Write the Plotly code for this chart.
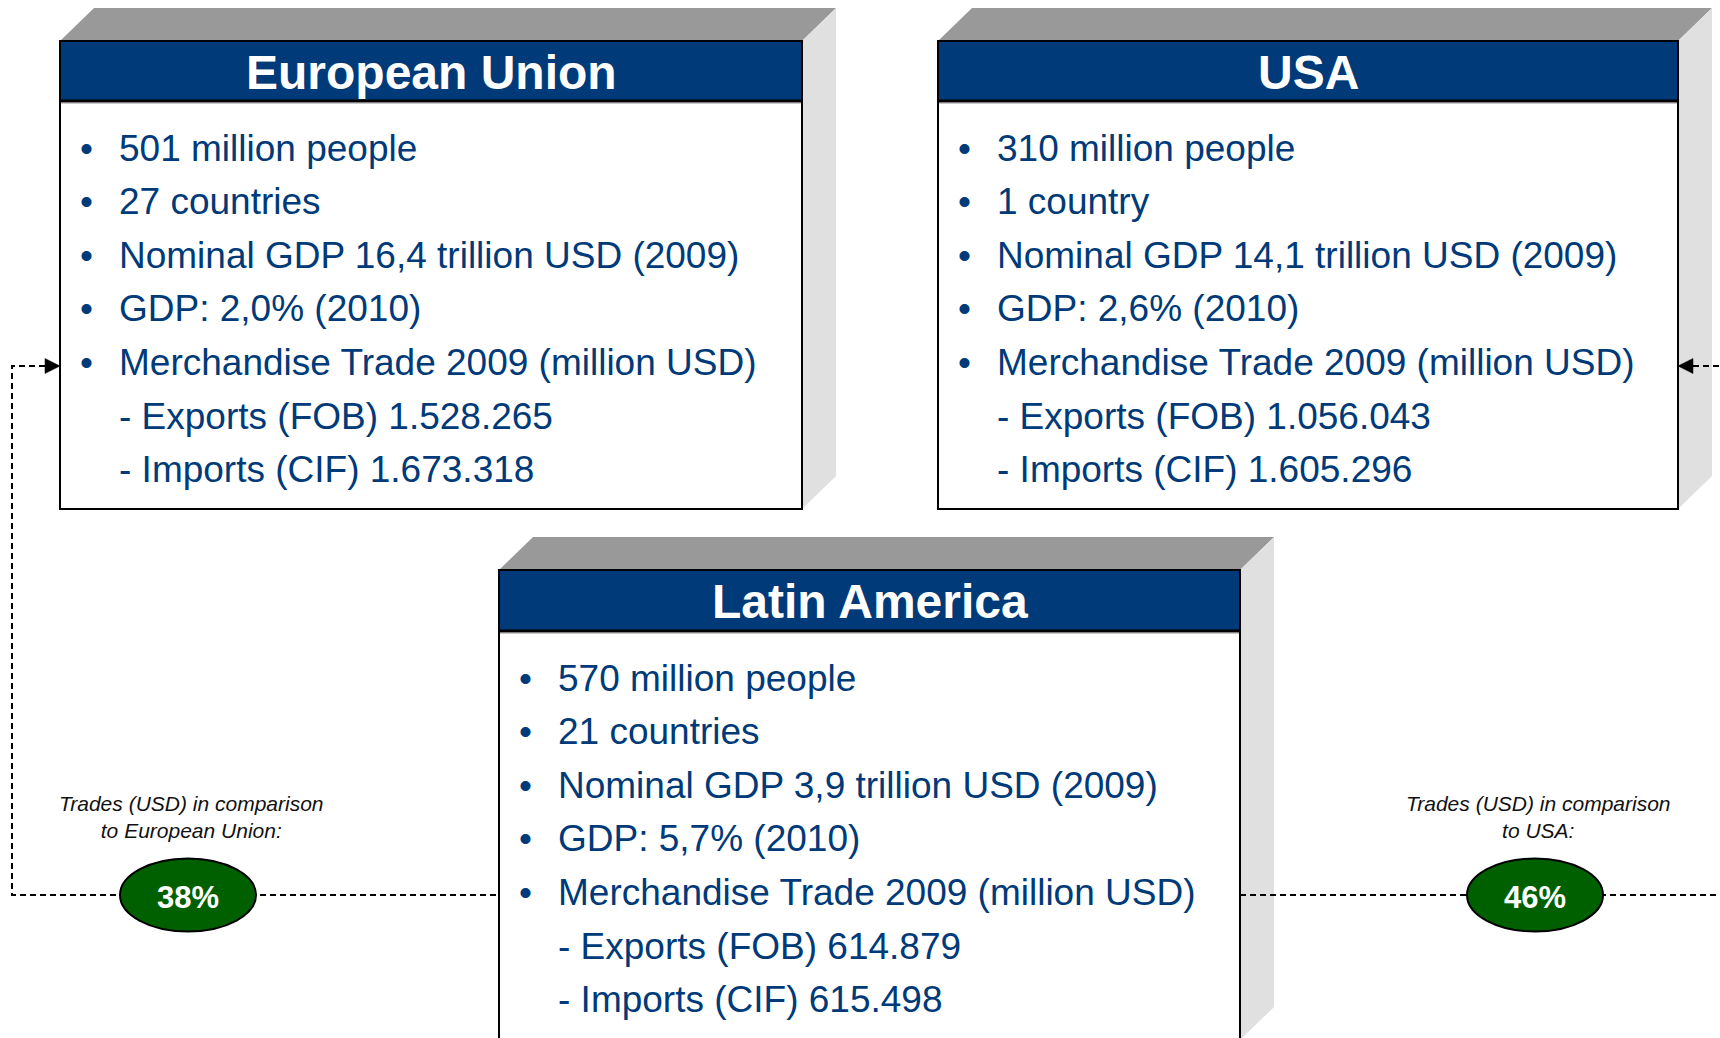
import plotly.graph_objects as go

W, H = 1720, 1038

# ---------------- data ----------------
region_titles = ["European Union", "USA", "Latin America"]

eu_items = ["501 million people", "27 countries",
            "Nominal GDP 16,4 trillion USD (2009)", "GDP: 2,0% (2010)",
            "Merchandise Trade 2009 (million USD)"]
eu_trade = ["- Exports (FOB) 1.528.265", "- Imports (CIF) 1.673.318"]

usa_items = ["310 million people", "1 country",
             "Nominal GDP 14,1 trillion USD (2009)", "GDP: 2,6% (2010)",
             "Merchandise Trade 2009 (million USD)"]
usa_trade = ["- Exports (FOB) 1.056.043", "- Imports (CIF) 1.605.296"]

la_items = ["570 million people", "21 countries",
            "Nominal GDP 3,9 trillion USD (2009)", "GDP: 5,7% (2010)",
            "Merchandise Trade 2009 (million USD)"]
la_trade = ["- Exports (FOB) 614.879", "- Imports (CIF) 615.498"]

comparison_labels = ["Trades (USD) in comparison<br>to European Union:",
                     "Trades (USD) in comparison<br>to USA:"]
comparison_pct = ["38%", "46%"]

# ---------------- style / layout ----------------
NAVY = "#003A78"
TOP_GRAY = "#999999"
SIDE_GRAY = "#E0E0E0"
GREEN = "#006000"
FONT = "Liberation Sans"
DX, DY = 34, 33
LINE_H = 53.6

boxes = [
    dict(x0=60, x1=802, y0=41, yh=101, y1=509),
    dict(x0=938, x1=1678, y0=41, yh=101, y1=509),
    dict(x0=499, x1=1240, y0=570, yh=631, y1=1040),
]
contents = [(eu_items, eu_trade), (usa_items, usa_trade), (la_items, la_trade)]

shapes = []
annotations = []

for b, title, (items, trade) in zip(boxes, region_titles, contents):
    x0, x1, y0, yh, y1 = b["x0"], b["x1"], b["y0"], b["yh"], b["y1"]
    # top face
    shapes.append(dict(type="path", xref="x", yref="y",
                       path=f"M {x0},{y0} L {x0+DX},{y0-DY} L {x1+DX},{y0-DY} L {x1},{y0} Z",
                       fillcolor=TOP_GRAY, line=dict(width=0), layer="above"))
    # right face
    shapes.append(dict(type="path", xref="x", yref="y",
                       path=f"M {x1},{y0} L {x1+DX},{y0-DY} L {x1+DX},{y1-DY} L {x1},{y1} Z",
                       fillcolor=SIDE_GRAY, line=dict(width=0), layer="above"))
    # body
    shapes.append(dict(type="rect", xref="x", yref="y", x0=x0, x1=x1, y0=y0, y1=y1,
                       fillcolor="white", line=dict(color="black", width=2), layer="above"))
    # header
    shapes.append(dict(type="rect", xref="x", yref="y", x0=x0, x1=x1, y0=y0, y1=yh,
                       fillcolor=NAVY, line=dict(color="black", width=2), layer="above"))
    shapes.append(dict(type="line", xref="x", yref="y", x0=x0, x1=x1, y0=yh, y1=yh,
                       line=dict(color="black", width=3), layer="above"))
    shapes.append(dict(type="line", xref="x", yref="y", x0=x0 + 1, x1=x1 - 1, y0=yh + 2.5, y1=yh + 2.5,
                       line=dict(color="#C8C8C8", width=1.2), layer="above"))
    annotations.append(dict(x=(x0 + x1) / 2, y=(y0 + yh) / 2 + 1, xref="x", yref="y",
                            text=f"<b>{title}</b>", showarrow=False,
                            xanchor="center", yanchor="middle",
                            font=dict(family=FONT, size=48, color="white")))
    lines = [("•", t) for t in items] + [("", t) for t in trade]
    for i, (bullet, t) in enumerate(lines):
        yy = yh + 47 + i * LINE_H
        if bullet:
            annotations.append(dict(x=x0 + 26, y=yy, xref="x", yref="y", text=bullet,
                                    showarrow=False, xanchor="center", yanchor="middle",
                                    font=dict(family=FONT, size=37, color=NAVY)))
        annotations.append(dict(x=x0 + 57, y=yy, xref="x", yref="y", text=t,
                                showarrow=False, xanchor="left", yanchor="middle",
                                font=dict(family=FONT, size=37, color=NAVY)))

# ---------------- connectors ----------------
DASH = dict(color="black", width=2, dash="6px,4px")
arrow_y = 366
link_y = 895
# left connector (EU <- LA)
shapes.append(dict(type="path", xref="x", yref="y",
                   path=f"M 45,{arrow_y} L 12,{arrow_y} L 12,{link_y} L 499,{link_y}",
                   line=DASH, layer="above"))
shapes.append(dict(type="path", xref="x", yref="y",
                   path=f"M 60,{arrow_y} L 45,{arrow_y-7.5} L 45,{arrow_y+7.5} Z",
                   fillcolor="black", line=dict(color="black", width=0.5), layer="above"))
# right connector (LA -> USA)
shapes.append(dict(type="path", xref="x", yref="y",
                   path=f"M 1240,{link_y} L 1725,{link_y}", line=DASH, layer="above"))
shapes.append(dict(type="path", xref="x", yref="y",
                   path=f"M 1693,{arrow_y} L 1725,{arrow_y}", line=DASH, layer="above"))
shapes.append(dict(type="path", xref="x", yref="y",
                   path=f"M 1678,{arrow_y} L 1693,{arrow_y-7.5} L 1693,{arrow_y+7.5} Z",
                   fillcolor="black", line=dict(color="black", width=0.5), layer="above"))

# ellipses and labels
ell_centers = [188, 1535]
for cx, lab, pct in zip(ell_centers, comparison_labels, comparison_pct):
    shapes.append(dict(type="circle", xref="x", yref="y",
                       x0=cx - 68, x1=cx + 68, y0=link_y - 36.5, y1=link_y + 36.5,
                       fillcolor=GREEN, line=dict(color="black", width=2), layer="above"))
    annotations.append(dict(x=cx, y=link_y + 2, xref="x", yref="y", text=f"<b>{pct}</b>",
                            showarrow=False, xanchor="center", yanchor="middle",
                            font=dict(family=FONT, size=31, color="white")))
    annotations.append(dict(x=cx + 3, y=817, xref="x", yref="y", text=f"<i>{lab}</i>",
                            showarrow=False, xanchor="center", yanchor="middle",
                            font=dict(family=FONT, size=21, color="#111111")))

fig = go.Figure()
fig.update_layout(
    width=W, height=H,
    margin=dict(l=0, r=0, t=0, b=0),
    paper_bgcolor="white", plot_bgcolor="white",
    font=dict(family=FONT),
    xaxis=dict(range=[0, W], visible=False, fixedrange=True),
    yaxis=dict(range=[H, 0], visible=False, fixedrange=True),
    shapes=shapes, annotations=annotations, showlegend=False,
)
fig.write_html("out.html", config={"displayModeBar": False},
               post_script="document.body.style.margin='0';document.body.style.overflow='hidden';")
